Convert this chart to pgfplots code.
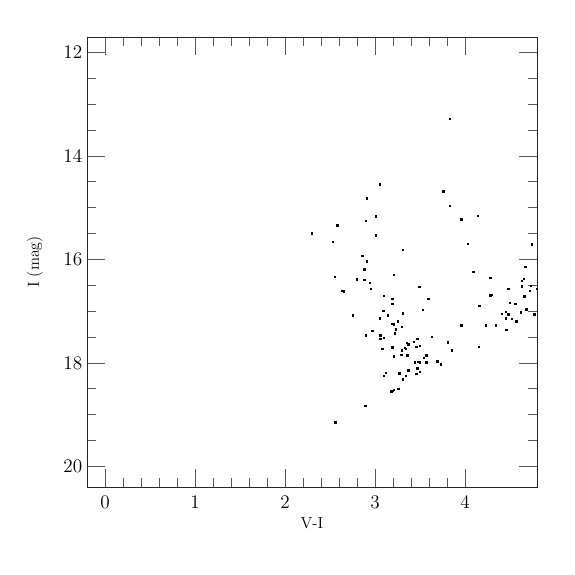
\documentclass[border=0pt]{standalone}
\usepackage{pgfplots}
\pgfplotsset{compat=1.18}
\usetikzlibrary{calc}
\begin{document}
\begin{tikzpicture}[x=1pt,y=1pt]
\begin{axis}[
  scale only axis, width=337.5pt, height=337.5pt,
  xmin=-0.2, xmax=4.8, ymin=11.7, ymax=20.4, y dir=reverse,
  xtick={0,1,2,3,4}, ytick={12,14,16,18,20},
  minor x tick num=4, minor y tick num=3,
  tick align=inside, major tick length=13.5pt, minor tick length=7pt,
  every tick/.style={gray!70!black, line width=0.5pt},
  axis line style={gray!30!black, line width=0.6pt},
  tick label style={font=\fontsize{14}{16}\selectfont},
  xticklabel style={yshift=-3pt},
  label style={font=\fontsize{12}{14}\selectfont},
  xlabel={V-I}, ylabel={I (mag)},
  xlabel style={at={(axis description cs:0.5,0)}, anchor=center, yshift=-27pt},
  ylabel style={at={(axis description cs:0,0.5)}, anchor=center, rotate=0, yshift=39pt},
  clip=true,
]
\addplot[only marks, mark=square*, mark size=0.55pt, black] table {
x y
3.05 14.55
2.91 14.82
3.01 15.17
2.90 15.25
2.58 15.34
2.30 15.49
3.01 15.53
2.53 15.66
3.31 15.81
2.86 15.93
2.91 16.04
2.88 16.19
3.21 16.30
2.55 16.34
2.80 16.38
2.88 16.39
2.94 16.45
2.65 16.62
2.63 16.61
2.95 16.57
3.10 16.70
3.19 16.76
3.19 16.86
3.09 16.99
2.75 17.08
3.14 17.08
3.31 17.04
3.05 17.14
3.25 17.20
3.19 17.24
3.21 17.25
3.30 17.30
3.23 17.35
2.97 17.38
3.22 17.43
2.90 17.47
3.06 17.47
3.06 17.53
3.10 17.51
3.35 17.61
3.37 17.63
3.19 17.70
3.33 17.71
3.08 17.73
3.34 17.73
3.30 17.76
3.29 17.84
3.36 17.85
3.21 17.87
3.37 18.14
3.12 18.19
3.27 18.20
3.10 18.25
3.34 18.25
3.31 18.32
3.26 18.50
3.21 18.52
3.20 18.54
3.18 18.55
2.89 18.83
2.56 19.15
3.83 13.28
3.76 14.68
3.83 14.96
4.14 15.16
3.96 15.22
4.03 15.70
4.74 15.71
4.67 16.14
4.09 16.24
4.65 16.37
4.63 16.41
4.28 16.35
3.49 16.53
4.63 16.52
4.73 16.51
4.80 16.57
4.48 16.57
4.72 16.61
4.29 16.68
4.28 16.69
4.66 16.71
3.59 16.76
4.50 16.84
4.56 16.86
4.16 16.90
4.15 16.90
4.68 16.96
3.53 16.97
4.45 17.01
4.41 17.05
4.62 17.02
4.48 17.06
4.77 17.06
4.45 17.14
4.52 17.15
4.57 17.20
3.96 17.27
4.23 17.27
4.34 17.27
4.46 17.36
3.63 17.50
3.47 17.53
3.81 17.60
3.43 17.59
3.37 17.65
3.46 17.69
3.50 17.67
4.15 17.69
3.85 17.76
3.57 17.85
3.54 17.90
3.69 17.97
3.73 18.03
3.44 17.99
3.48 17.98
3.50 17.99
3.57 17.99
3.47 18.10
3.50 18.17
3.46 18.21
};
\end{axis}
\useasboundingbox ($(current axis.south west)+(-65.25pt,-66pt)$) rectangle ($(current axis.north east)+(28.5pt,27.75pt)$);
\end{tikzpicture}
\end{document}
